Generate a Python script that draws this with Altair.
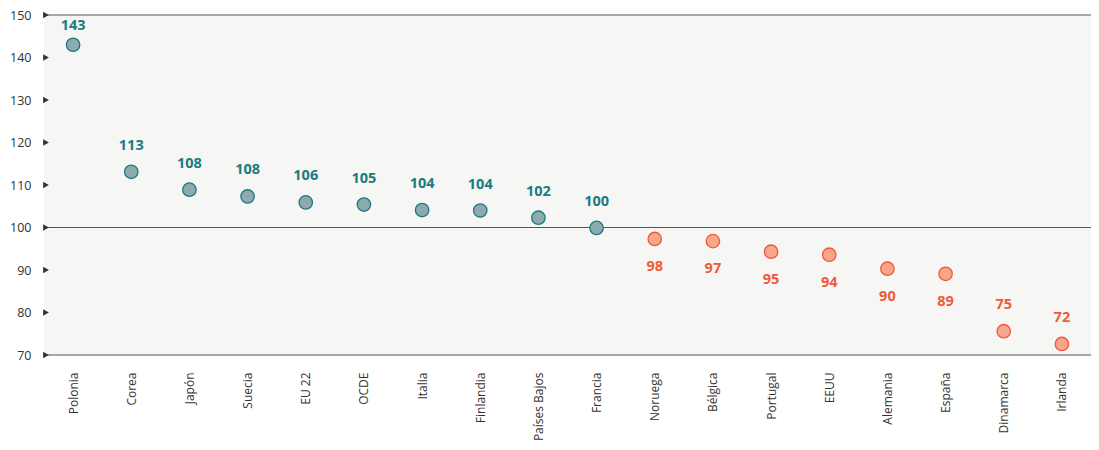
import altair as alt
import pandas as pd

countries = ["Polonia", "Corea", "Japón", "Suecia", "EU 22", "OCDE", "Italia", "Finlandia",
             "Países Bajos", "Francia", "Noruega", "Bélgica", "Portugal", "EEUU", "Alemania",
             "España", "Dinamarca", "Irlanda"]
values = [143.0, 113.1, 108.9, 107.3, 105.9, 105.4, 104.1, 104.0, 102.3, 99.9,
          97.3, 96.8, 94.3, 93.6, 90.3, 89.1, 75.6, 72.6]
labels = [143, 113, 108, 108, 106, 105, 104, 104, 102, 100, 98, 97, 95, 94, 90, 89, 75, 72]
y_ticks = [70, 80, 90, 100, 110, 120, 130, 140, 150]
ref_lines = [150, 100, 70]

TEAL = "#1b7b81"
TEAL_FILL = "#8faaae"
RED = "#f05a3c"
RED_FILL = "#f7a68c"
FONT = "Open Sans"

W, H = 1047, 340

df = pd.DataFrame({"country": countries, "value": values, "label": labels})
df["grp"] = ["hi" if l >= 100 else "lo" for l in labels]

x_enc = alt.X("country:N", sort=countries, title=None,
              scale=alt.Scale(type="point", padding=0.5),
              axis=alt.Axis(labelAngle=-90, labelAlign="right", labelBaseline="middle",
                            labelPadding=17, labelFontSize=12, labelColor="#333333",
                            labelFont=FONT, domain=False, ticks=False))
y_scale = alt.Scale(domain=[70, 150], nice=False, zero=False)
y_enc = alt.Y("value:Q", scale=y_scale, title=None,
              axis=alt.Axis(values=y_ticks, labelFontSize=12.5, labelColor="#333333",
                            labelFont=FONT, labelPadding=13, domain=False, ticks=False,
                            grid=False))

base = alt.Chart(df)

points = base.mark_circle(size=180, opacity=1, strokeWidth=1.3).encode(
    x=x_enc, y=y_enc,
    fill=alt.Color("grp:N", scale=alt.Scale(domain=["hi", "lo"], range=[TEAL_FILL, RED_FILL]), legend=None),
    stroke=alt.Color("grp:N", scale=alt.Scale(domain=["hi", "lo"], range=[TEAL, RED]), legend=None),
)

txt_color = alt.Color("grp:N", scale=alt.Scale(domain=["hi", "lo"], range=[TEAL, RED]), legend=None)

above_names = ["Corea", "Japón", "Suecia", "EU 22", "OCDE", "Italia", "Finlandia",
               "Países Bajos", "Francia", "Dinamarca", "Irlanda"]
below_names = ["Noruega", "Bélgica", "Portugal", "EEUU", "Alemania", "España"]

text_above = base.transform_filter(
    alt.FieldOneOfPredicate(field="country", oneOf=above_names)
).mark_text(dy=-26, fontSize=14.5, fontWeight="bold", font=FONT).encode(
    x=x_enc, y=y_enc, text="label:N", color=txt_color)

text_top = base.transform_filter(
    alt.FieldOneOfPredicate(field="country", oneOf=["Polonia"])
).mark_text(dy=-19, fontSize=14.5, fontWeight="bold", font=FONT).encode(
    x=x_enc, y=y_enc, text="label:N", color=txt_color)

text_below = base.transform_filter(
    alt.FieldOneOfPredicate(field="country", oneOf=below_names)
).mark_text(dy=28, fontSize=14.5, fontWeight="bold", font=FONT).encode(
    x=x_enc, y=y_enc, text="label:N", color=txt_color)

rules = alt.Chart(pd.DataFrame({"v": ref_lines})).mark_rule(color="#555555", strokeWidth=1).encode(
    y=alt.Y("v:Q", scale=y_scale), x=alt.value(0), x2=alt.value(W))

tri = alt.Chart(pd.DataFrame({"t": y_ticks})).mark_point(
    shape="triangle-right", filled=True, size=45, color="#333333", opacity=1).encode(
    y=alt.Y("t:Q", scale=y_scale), x=alt.value(2))

chart = alt.layer(rules, tri, points, text_above, text_top, text_below).properties(
    width=W, height=H,
    autosize=alt.AutoSizeParams(type="none"),
    padding={"left": 36, "top": 7, "right": 0, "bottom": 87},
).configure_view(fill="#f6f6f4", stroke=None)

chart.save("out.html", embed_options={"renderer": "svg", "actions": False})
